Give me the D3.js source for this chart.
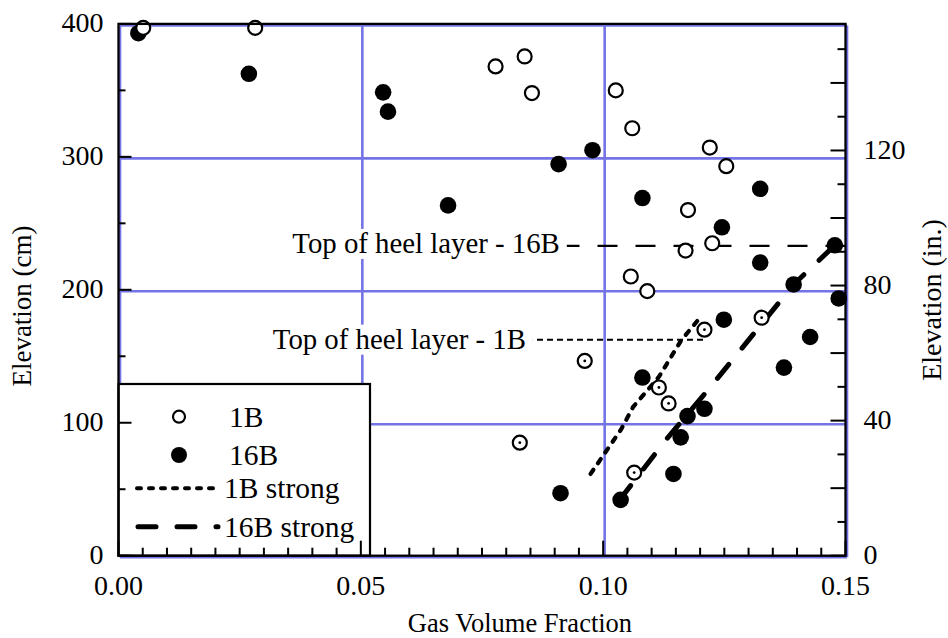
<!DOCTYPE html>
<html>
<head>
<meta charset="utf-8">
<script src="https://cdn.jsdelivr.net/npm/d3@7"></script>
<style>
  body { margin: 0; background: #fff; }
  svg text { font-family: "Liberation Serif", "Times New Roman", serif; fill: #000; }
</style>
</head>
<body>
<svg id="chart" width="948" height="638"></svg>
<script>
// ---- data -------------------------------------------------------------
const xTickLabels = ["0.00", "0.05", "0.10", "0.15"];
const xTickValues = [0, 0.05, 0.10, 0.15];
const yTicksCm = [0, 100, 200, 300, 400];
const yTicksIn = [0, 40, 80, 120];

// 1B measurements [gas volume fraction, elevation cm]
const series1B = [
  [0.0051, 397], [0.0282, 397], [0.0778, 368], [0.0838, 375.5], [0.0853, 348],
  [0.1026, 350], [0.1060, 321.5], [0.1220, 307], [0.1254, 293], [0.1175, 260],
  [0.1225, 235], [0.1170, 229.5], [0.1057, 210], [0.1091, 199]
];
// 1B measurements shown with a centre mark
const series1BMarked = [
  [0.0828, 85], [0.0962, 146.5], [0.1209, 170], [0.1327, 179],
  [0.1115, 126.5], [0.1135, 114.5], [0.1064, 62.5]
];
// 16B measurements
const series16B = [
  [0.0041, 393], [0.0269, 362.5], [0.0546, 348.5], [0.0556, 334], [0.0680, 263.5],
  [0.0908, 294.5], [0.0978, 305], [0.1081, 269], [0.1324, 276], [0.1245, 247],
  [0.1324, 220.5], [0.1478, 233.5], [0.1393, 204], [0.1486, 193.5], [0.1249, 177.5],
  [0.1427, 164.5], [0.1373, 141.5], [0.1081, 134], [0.1209, 110.5], [0.1174, 105],
  [0.1160, 89], [0.1145, 61.5], [0.1036, 42], [0.0912, 47]
];
// "strong" profiles
const strong1B = [[0.0974, 61.5], [0.1037, 95], [0.1062, 112], [0.1115, 134.5], [0.1161, 162], [0.1202, 180]];
const strong16B = [[0.1034, 42], [0.1127, 86], [0.1226, 129], [0.1393, 204], [0.1478, 233.5]];

// heel layer tops
const heelLabels = ["Top of heel layer - 16B", "Top of heel layer - 1B"];
const heelElevations = [233, 162.5];
const heelExtents = [[0.0925, 0.15], [0.0855, 0.1206]];

const legendLabels = ["1B", "16B", "1B strong", "16B strong"];

// ---- layout -----------------------------------------------------------
const svg = d3.select("#chart");
const x = d3.scaleLinear().domain([0, 0.15]).range([118.5, 845.5]);
const y = d3.scaleLinear().domain([0, 400]).range([555.7, 23.9]);
const yIn = d3.scaleLinear().domain([0, 400 / 2.54]).range([555.7, 23.9]);

const gridColor = "#7474e6";

// grid
const grid = svg.append("g").attr("transform", "translate(1.5,1.5)");
grid.selectAll("line.v").data(xTickValues).join("line")
  .attr("x1", d => x(d)).attr("x2", d => x(d))
  .attr("y1", y(0)).attr("y2", y(400))
  .attr("stroke", gridColor).attr("stroke-width", 2.6);
grid.selectAll("line.h").data(yTicksCm).join("line")
  .attr("y1", d => y(d)).attr("y2", d => y(d))
  .attr("x1", x(0)).attr("x2", x(0.15))
  .attr("stroke", gridColor).attr("stroke-width", 2.6);

// heel layer markers
const heel = svg.append("g");
heelLabels.forEach((label, i) => {
  const yy = y(heelElevations[i]);
  const [a, b] = heelExtents[i];
  const t = heel.append("text")
    .attr("x", x(a) - 7).attr("y", yy + (i === 0 ? 7 : 9))
    .attr("text-anchor", "end")
    .attr("font-size", 28.8)
    .text(label);
  const bb = t.node().getBBox();
  heel.insert("rect", "text")
    .attr("x", bb.x - 2).attr("y", bb.y + 2)
    .attr("width", bb.width + 4).attr("height", bb.height - 2)
    .attr("fill", "#fff");
  heel.append("line")
    .attr("x1", x(b)).attr("x2", x(a))
    .attr("y1", yy).attr("y2", yy)
    .attr("stroke", "#000")
    .attr("stroke-width", i === 0 ? 2.2 : 2)
    .attr("stroke-dasharray", i === 0 ? "20,18" : "6,4");
});

// strong profiles
const line = d3.line().x(d => x(d[0])).y(d => y(d[1]));
svg.append("path").datum(strong1B).attr("d", line)
  .attr("fill", "none").attr("stroke", "#000").attr("stroke-width", 4.2)
  .attr("stroke-linecap", "round").attr("stroke-dasharray", "5,8");
svg.append("path").datum(strong16B).attr("d", line)
  .attr("fill", "none").attr("stroke", "#000").attr("stroke-width", 5)
  .attr("stroke-linecap", "round").attr("stroke-dasharray", "18,21");

// points
svg.append("g").selectAll("circle").data(series16B).join("circle")
  .attr("cx", d => x(d[0])).attr("cy", d => y(d[1])).attr("r", 8.3)
  .attr("fill", "#000");
svg.append("g").selectAll("circle").data(series1B.concat(series1BMarked)).join("circle")
  .attr("cx", d => x(d[0])).attr("cy", d => y(d[1])).attr("r", 7)
  .attr("fill", "#fff").attr("stroke", "#000").attr("stroke-width", 2.2);
svg.append("g").selectAll("circle").data(series1BMarked).join("circle")
  .attr("cx", d => x(d[0])).attr("cy", d => y(d[1])).attr("r", 1.4)
  .attr("fill", "#000");

// legend
const lg = svg.append("g");
lg.append("rect").attr("x", 118.5).attr("y", 384).attr("width", 251.5).attr("height", 171.7)
  .attr("fill", "#fff").attr("stroke", "#000").attr("stroke-width", 2.2);
const rowY = [416.7, 455, 488.3, 526.7];
lg.append("circle").attr("cx", 179).attr("cy", rowY[0]).attr("r", 6)
  .attr("fill", "#fff").attr("stroke", "#000").attr("stroke-width", 2.2);
lg.append("circle").attr("cx", 179).attr("cy", rowY[1]).attr("r", 8).attr("fill", "#000");
lg.append("line").attr("x1", 137).attr("x2", 219).attr("y1", rowY[2]).attr("y2", rowY[2])
  .attr("stroke", "#000").attr("stroke-width", 4).attr("stroke-linecap", "round")
  .attr("stroke-dasharray", "4,8");
lg.append("line").attr("x1", 138).attr("x2", 218).attr("y1", rowY[3]).attr("y2", rowY[3])
  .attr("stroke", "#000").attr("stroke-width", 5).attr("stroke-linecap", "round")
  .attr("stroke-dasharray", "18,21");
legendLabels.forEach((lab, i) => {
  lg.append("text").attr("x", i < 2 ? 229 : 224).attr("y", rowY[i] + 10)
    .attr("font-size", 29.5).text(lab);
});

// axes
const ax = svg.append("g").attr("stroke", "#000");
const xMinor = d3.range(0, 31).map(i => i * 0.005);
ax.selectAll("line.xt").data(xMinor).join("line")
  .attr("x1", d => x(d)).attr("x2", d => x(d))
  .attr("y1", y(0)).attr("y2", (d, i) => y(0) - (i % 10 === 0 ? 15 : 8))
  .attr("stroke-width", 2);
const yMinor = d3.range(0, 9).map(i => i * 50);
ax.selectAll("line.yt").data(yMinor).join("line")
  .attr("x1", x(0)).attr("x2", (d, i) => x(0) + (i % 2 === 0 ? 13 : 7))
  .attr("y1", d => y(d)).attr("y2", d => y(d))
  .attr("stroke-width", 2);
const inMinor = d3.range(0, 16).map(i => i * 10);
ax.selectAll("line.it").data(inMinor).join("line")
  .attr("x1", x(0.15)).attr("x2", (d, i) => x(0.15) - (i % 2 === 0 ? 15 : 8))
  .attr("y1", d => yIn(d)).attr("y2", d => yIn(d))
  .attr("stroke-width", 2);
ax.append("rect").attr("x", x(0)).attr("y", y(400))
  .attr("width", x(0.15) - x(0)).attr("height", y(0) - y(400))
  .attr("fill", "none").attr("stroke-width", 2.3);

// tick labels
const tl = svg.append("g").attr("font-size", 28);
tl.selectAll("text.x").data(xTickValues).join("text")
  .attr("x", d => x(d)).attr("y", y(0) + 39.5)
  .attr("text-anchor", "middle").text((d, i) => xTickLabels[i]);
tl.selectAll("text.y").data(yTicksCm).join("text")
  .attr("x", x(0) - 15).attr("y", d => y(d) + 8.5)
  .attr("text-anchor", "end").text(d => d);
tl.selectAll("text.yi").data(yTicksIn).join("text")
  .attr("x", x(0.15) + 18).attr("y", d => yIn(d) + 8.5)
  .attr("text-anchor", "start").text(d => d);

// axis titles
svg.append("text").attr("x", 520).attr("y", 632).attr("text-anchor", "middle")
  .attr("font-size", 26.5).text("Gas Volume Fraction");
svg.append("text").attr("transform", "translate(31,306) rotate(-90)")
  .attr("text-anchor", "middle").attr("font-size", 27).text("Elevation (cm)");
svg.append("text").attr("transform", "translate(941,300) rotate(-90)")
  .attr("text-anchor", "middle").attr("font-size", 28).text("Elevation (in.)");
</script>
</body>
</html>
